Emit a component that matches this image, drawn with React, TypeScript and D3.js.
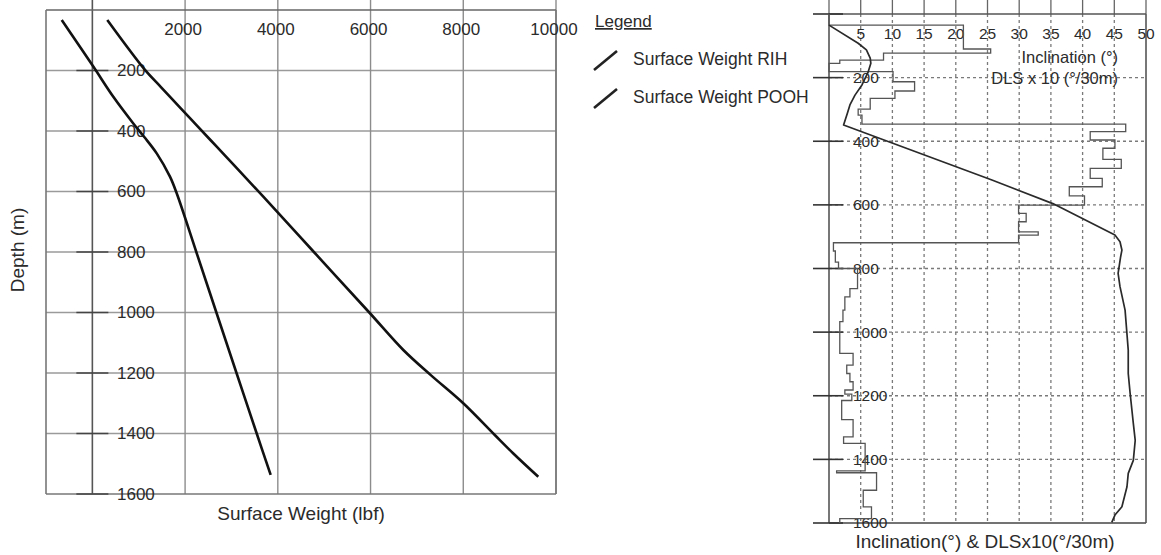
import React from "react";
import * as d3 from "d3";

// ---------- Left chart data ----------
const weightTicks = [0, 2000, 4000, 6000, 8000, 10000];
const weightTickLabels = ["2000", "4000", "6000", "8000", "10000"];
const depthTicks = [200, 400, 600, 800, 1000, 1200, 1400, 1600];

const rihWeight = [-661, 20, 452, 883, 1120, 1388, 1674, 1819, 2242, 2675, 3109, 3545, 3846];
const rihDepth = [33, 187, 287, 375, 420, 474, 551, 606, 800, 1000, 1200, 1400, 1537];

const poohWeight = [322, 1135, 1474, 1907, 2281, 2682, 3085, 3687, 4778, 5973, 6707, 7300, 8000, 8680, 9080, 9618];
const poohDepth = [33, 198, 254, 325, 386, 452, 518, 617, 800, 1000, 1124, 1207, 1300, 1405, 1466, 1543];

const legendLabels = ["Surface Weight RIH", "Surface Weight POOH"];

// ---------- Right chart data ----------
const incTicks = [5, 10, 15, 20, 25, 30, 35, 40, 45, 50];
const incDepthTicks = [200, 400, 600, 800, 1000, 1200, 1400, 1600];

const incValue = [0, 4.6, 5.9, 6.5, 6.6, 6.2, 5.2, 4.1, 3.3, 2.9, 2.3, 25.7, 35.3, 45.1, 45.9, 46.2, 46.0, 45.6, 45.9, 46.7, 47.2, 47.2, 47.5, 48.0, 48.3, 48.0, 47.2, 47.0, 46.2, 45.1, 44.6];
const incDepth = [35, 92, 113, 139, 155, 181, 223, 255, 286, 312, 349, 522, 596, 695, 716, 742, 763, 815, 857, 931, 1057, 1130, 1193, 1287, 1340, 1403, 1444, 1486, 1549, 1575, 1598];

const dlsTop = [0, 35, 110, 123, 145, 155, 181, 213, 242, 265, 299, 318, 346, 370, 396, 422, 457, 485, 517, 543, 572, 601, 627, 653, 685, 695, 719, 745, 780, 800, 863, 889, 931, 967, 1067, 1104, 1130, 1156, 1182, 1195, 1215, 1275, 1329, 1350, 1436, 1442, 1497, 1549, 1586];
const dlsValue = [0, 21.2, 25.5, 8.6, 1.7, 0, 10.1, 13.5, 10.4, 6.5, 4.6, 5.2, 46.8, 41.2, 45.1, 43.2, 46.1, 41.2, 43.1, 37.9, 40.3, 29.9, 31.1, 29.9, 33.0, 29.9, 0.7, 1.0, 1.5, 4.5, 3.3, 2.5, 2.2, 1.7, 3.8, 2.8, 3.3, 3.8, 2.5, 3.6, 2.0, 3.8, 2.3, 5.7, 1.2, 7.5, 5.4, 6.7, 1.7];
const dlsBottomDepth = 1600;

const FONT = "'Liberation Sans', Arial, Helvetica, sans-serif";
const TEXT = "#2b2b2b";

export default function App() {
  // Left chart scales
  const xL = d3.scaleLinear().domain([-1000, 10000]).range([46, 556]);
  const yL = d3.scaleLinear().domain([0, 1600]).range([10, 494]);

  const lineL = d3
    .line<[number, number]>()
    .x((d) => xL(d[0]))
    .y((d) => yL(d[1]))
    .curve(d3.curveCatmullRom.alpha(0.5));

  const rihPts = rihWeight.map((w, i) => [w, rihDepth[i]] as [number, number]);
  const poohPts = poohWeight.map((w, i) => [w, poohDepth[i]] as [number, number]);

  // Right chart scales
  const xR = d3.scaleLinear().domain([0, 50]).range([829, 1146]);
  const yR = d3.scaleLinear().domain([0, 1600]).range([14, 523]);

  const incLine = d3
    .line<[number, number]>()
    .x((d) => xR(d[0]))
    .y((d) => yR(d[1]));
  const incPts = incValue.map((v, i) => [v, incDepth[i]] as [number, number]);

  const dlsPts: [number, number][] = [];
  dlsValue.forEach((v, i) => {
    const top = dlsTop[i];
    const bottom = i + 1 < dlsTop.length ? dlsTop[i + 1] : dlsBottomDepth;
    dlsPts.push([v, top]);
    dlsPts.push([v, bottom]);
  });
  const dlsLine = d3
    .line<[number, number]>()
    .x((d) => xR(d[0]))
    .y((d) => yR(d[1]));

  const [lx0, lx1] = xL.range();
  const [ly0, ly1] = yL.range();
  const [rx0, rx1] = xR.range();
  const [ry0, ry1] = yR.range();

  return (
    <svg
      width={1161}
      height={555}
      style={{ position: "absolute", left: 0, top: 0, background: "#fff" }}
      fontFamily={FONT}
    >
      <rect x={0} y={0} width={1161} height={555} fill="#fff" />

      {/* ================= LEFT CHART ================= */}
      {depthTicks
        .filter((d) => d < 1600)
        .map((d) => (
          <line key={"lh" + d} x1={lx0} x2={lx1} y1={yL(d)} y2={yL(d)} stroke="#9a9a9a" strokeWidth={1.4} />
        ))}
      {weightTicks.map((w) => (
        <line
          key={"lv" + w}
          x1={xL(w)}
          x2={xL(w)}
          y1={0}
          y2={ly1}
          stroke={w === 0 ? "#555" : "#8c8c8c"}
          strokeWidth={w === 0 ? 1.6 : 1.4}
        />
      ))}
      <line x1={lx0} x2={lx1} y1={ly0} y2={ly0} stroke="#666" strokeWidth={1.6} />
      <line x1={lx0} x2={lx1} y1={ly1} y2={ly1} stroke="#777" strokeWidth={1.6} />
      <line x1={lx0} x2={lx0} y1={ly0} y2={ly1} stroke="#777" strokeWidth={1.6} />
      <line x1={lx1} x2={lx1} y1={ly0} y2={ly1} stroke="#777" strokeWidth={1.6} />
      {depthTicks.map((d) => (
        <line key={"lt" + d} x1={xL(0) - 16} x2={xL(0) + 16} y1={yL(d)} y2={yL(d)} stroke="#444" strokeWidth={1.5} />
      ))}
      {weightTicks.slice(1).map((w, i) => (
        <text key={"lxl" + w} x={xL(w) - 2} y={35} textAnchor="middle" fontSize={17} fill={TEXT}>
          {weightTickLabels[i]}
        </text>
      ))}
      {depthTicks.map((d) => (
        <text key={"lyl" + d} x={117} y={yL(d)} dy="0.35em" fontSize={17} fill={TEXT}>
          {d}
        </text>
      ))}
      <path d={lineL(rihPts) || ""} fill="none" stroke="#111" strokeWidth={2.6} strokeLinejoin="round" />
      <path d={lineL(poohPts) || ""} fill="none" stroke="#111" strokeWidth={2.6} strokeLinejoin="round" />
      <text x={301} y={520} textAnchor="middle" fontSize={19} fill={TEXT}>
        Surface Weight (lbf)
      </text>
      <text transform="translate(24,250) rotate(-90)" textAnchor="middle" fontSize={19} fill={TEXT}>
        Depth (m)
      </text>

      {/* ================= LEGEND ================= */}
      <text x={595} y={27} fontSize={17} fill={TEXT} textDecoration="underline">
        Legend
      </text>
      {legendLabels.map((lab, i) => (
        <g key={lab}>
          <line x1={594} y1={70 + i * 38} x2={617} y2={51 + i * 38} stroke="#222" strokeWidth={2.6} />
          <text x={633} y={65 + i * 38} fontSize={17.5} fill={TEXT}>
            {lab}
          </text>
        </g>
      ))}

      {/* ================= RIGHT CHART ================= */}
      {incTicks
        .filter((v) => v < 50)
        .map((v) => (
          <line
            key={"rv" + v}
            x1={xR(v)}
            x2={xR(v)}
            y1={ry0}
            y2={ry1}
            stroke="#7a7a7a"
            strokeWidth={1.3}
            strokeDasharray="3,3"
          />
        ))}
      {incDepthTicks
        .filter((d) => d < 1600)
        .map((d) => (
          <line
            key={"rh" + d}
            x1={rx0}
            x2={rx1}
            y1={yR(d)}
            y2={yR(d)}
            stroke="#7a7a7a"
            strokeWidth={1.3}
            strokeDasharray="3,3"
          />
        ))}
      {[0, ...incTicks].map((v) => (
        <line key={"rtt" + v} x1={xR(v)} x2={xR(v)} y1={0} y2={ry0} stroke="#666" strokeWidth={1.3} />
      ))}
      <line x1={rx0} x2={rx1} y1={ry0} y2={ry0} stroke="#555" strokeWidth={1.6} />
      <line x1={rx0} x2={rx1} y1={ry1} y2={ry1} stroke="#444" strokeWidth={1.6} />
      <line x1={rx0} x2={rx0} y1={ry0} y2={ry1} stroke="#555" strokeWidth={1.6} />
      <line x1={rx1} x2={rx1} y1={ry0} y2={ry1} stroke="#555" strokeWidth={1.6} />
      {[0, ...incDepthTicks].map((d) => (
        <line key={"rt" + d} x1={rx0 - 16} x2={rx0 + 14} y1={yR(d)} y2={yR(d)} stroke="#333" strokeWidth={1.6} />
      ))}
      {incTicks.map((v) => (
        <text key={"rxl" + v} x={xR(v)} y={39} textAnchor="middle" fontSize={15.5} fill={TEXT}>
          {v}
        </text>
      ))}
      {incDepthTicks.map((d) => (
        <text key={"ryl" + d} x={853} y={yR(d)} dy="0.35em" fontSize={15.5} fill={TEXT}>
          {d}
        </text>
      ))}
      <path d={dlsLine(dlsPts) || ""} fill="none" stroke="#555" strokeWidth={1.3} />
      <path d={incLine(incPts) || ""} fill="none" stroke="#2a2a2a" strokeWidth={1.7} strokeLinejoin="round" />
      <text x={1118} y={63} textAnchor="end" fontSize={16.5} fill={TEXT}>
        Inclination (°)
      </text>
      <text x={1118} y={84} textAnchor="end" fontSize={16.5} fill={TEXT}>
        DLS x 10 (°/30m)
      </text>
      <text x={985} y={548} textAnchor="middle" fontSize={19} fill={TEXT}>
        Inclination(°) &amp; DLSx10(°/30m)
      </text>
    </svg>
  );
}
